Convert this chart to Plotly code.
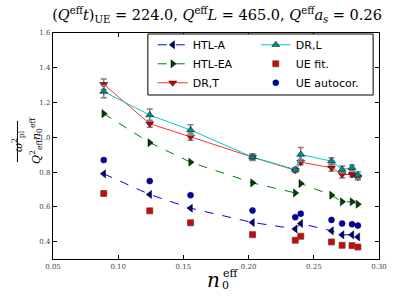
import plotly.graph_objects as go

# data
x_vals = [0.0889, 0.1242, 0.1555, 0.2030, 0.2358, 0.2400, 0.2636, 0.2717, 0.2793, 0.2838]
htl_a = [0.790, 0.671, 0.592, 0.510, 0.473, 0.504, 0.462, 0.439, 0.439, 0.427]
htl_ea = [1.136, 0.969, 0.857, 0.738, 0.680, 0.734, 0.667, 0.629, 0.629, 0.615]
dr_t = [1.305, 1.078, 1.003, 0.886, 0.810, 0.857, 0.825, 0.786, 0.786, 0.771]
dr_t_err = [0.030, 0.020, 0.020, 0.015, 0.012, 0.015, 0.020, 0.020, 0.015, 0.015]
dr_l = [1.263, 1.128, 1.042, 0.886, 0.815, 0.901, 0.863, 0.815, 0.825, 0.782]
dr_l_err = [0.035, 0.035, 0.030, 0.020, 0.012, 0.040, 0.020, 0.020, 0.015, 0.020]
ue_fit = [0.677, 0.577, 0.508, 0.440, 0.408, 0.431, 0.398, 0.379, 0.377, 0.369]
ue_fit_err = [0.006, 0.006, 0.006, 0.006, 0.006, 0.006, 0.006, 0.006, 0.006, 0.006]
ue_auto = [0.869, 0.748, 0.667, 0.579, 0.540, 0.561, 0.525, 0.504, 0.500, 0.492]

x_ticks = [0.05, 0.10, 0.15, 0.20, 0.25, 0.30]
y_ticks = [0.4, 0.6, 0.8, 1.0, 1.2, 1.4, 1.6]

serif = "DejaVu Serif"
fig = go.Figure()

err_style = dict(type="data", color="#808080", thickness=1.5, width=3)

fig.add_trace(go.Scatter(x=x_vals, y=htl_a, name="HTL-A", mode="lines+markers",
                         line=dict(color="#0000ff", dash="dash", width=1),
                         marker=dict(symbol="triangle-left", size=7, color="#000080",
                                     line=dict(color="black", width=0.5)),
                         legend="legend", legendrank=1))
fig.add_trace(go.Scatter(x=x_vals, y=htl_ea, name="HTL-EA", mode="lines+markers",
                         line=dict(color="#008000", dash="dash", width=1),
                         marker=dict(symbol="triangle-right", size=7, color="#004000",
                                     line=dict(color="black", width=0.5)),
                         legend="legend", legendrank=2))
fig.add_trace(go.Scatter(x=x_vals, y=dr_t, name="DR,T", mode="lines+markers",
                         line=dict(color="#ff3030", width=1),
                         marker=dict(symbol="triangle-down", size=7, color="#d00000",
                                     line=dict(color="black", width=0.5)),
                         error_y=dict(array=dr_t_err, **err_style),
                         legend="legend", legendrank=3))
fig.add_trace(go.Scatter(x=x_vals, y=dr_l, name="DR,L", mode="lines+markers",
                         line=dict(color="#00cccc", width=1),
                         marker=dict(symbol="triangle-up", size=7, color="#008b8b",
                                     line=dict(color="black", width=0.5)),
                         error_y=dict(array=dr_l_err, **err_style),
                         legend="legend2", legendrank=1))
fig.add_trace(go.Scatter(x=x_vals, y=ue_fit, name="UE fit.", mode="markers",
                         marker=dict(symbol="square", size=6, color="#dd0000",
                                     line=dict(color="#505050", width=0.8)),
                         error_y=dict(array=ue_fit_err, **err_style),
                         legend="legend2", legendrank=2))
fig.add_trace(go.Scatter(x=x_vals, y=ue_auto, name="UE autocor.", mode="markers",
                         marker=dict(symbol="circle", size=6, color="#0000aa",
                                     line=dict(color="#000040", width=0.5)),
                         legend="legend2", legendrank=3))

axis_common = dict(showline=True, linecolor="black", linewidth=1.2, mirror="ticks",
                   ticks="inside", ticklen=4, tickcolor="black", showgrid=False,
                   zeroline=False, tickfont=dict(family=serif, size=7, color="#444"))

legend_common = dict(orientation="v", yanchor="top", xanchor="left",
                     bgcolor="rgba(0,0,0,0)", borderwidth=0,
                     font=dict(family="DejaVu Sans", size=11, color="black"),
                     itemwidth=30, tracegroupgap=0)

fig.update_layout(
    width=399, height=299,
    margin=dict(l=53, r=16, t=33, b=40),
    paper_bgcolor="white", plot_bgcolor="white",
    title=dict(text="(<i>Q</i><sup>eff</sup><i>t</i>)<sub>UE</sub> = 224.0, <i>Q</i><sup>eff</sup><i>L</i> = 465.0, <i>Q</i><sup>eff</sup><i>a<sub>s</sub></i> = 0.26",
               font=dict(family=serif, size=14.5, color="black"),
               x=0.544, xanchor="center", y=0.95, yanchor="middle"),
    xaxis=dict(range=[0.05, 0.30], tickvals=x_ticks, tickformat=".2f", **axis_common),
    yaxis=dict(range=[0.3, 1.6], tickvals=y_ticks, tickformat=".1f", **axis_common),
    legend=dict(x=0.306, y=1.012, **legend_common),
    legend2=dict(x=0.622, y=1.012, **legend_common),
    showlegend=True,
)

# legend frame
fig.add_shape(type="rect", xref="paper", yref="paper", x0=0.291, x1=0.982,
              y0=(259 - 95) / 226, y1=(259 - 34) / 226,
              line=dict(color="black", width=1), fillcolor="white", layer="above")

# x-axis label n_0^eff
fig.add_annotation(text="<i>n</i>", x=0.491, y=-0.093, xref="paper", yref="paper",
                   showarrow=False, font=dict(family=serif, size=20, color="black"),
                   xanchor="center", yanchor="middle")
fig.add_annotation(text="eff", x=0.515, y=-0.062, xref="paper", yref="paper",
                   showarrow=False, font=dict(family=serif, size=11, color="black"),
                   xanchor="left", yanchor="middle")
fig.add_annotation(text="0", x=0.512, y=-0.118, xref="paper", yref="paper",
                   showarrow=False, font=dict(family=serif, size=11, color="black"),
                   xanchor="left", yanchor="middle")

# y-axis label as a fraction
fig.add_annotation(text="<i>ω</i><sup>2</sup><sub>pl</sub>", x=0, xshift=-45, y=0.522,
                   xref="paper", yref="paper", showarrow=False, textangle=-90,
                   font=dict(family=serif, size=11, color="black"))
fig.add_annotation(text="<i>Q</i><sup>2</sup><sub>eff</sub><i>n</i><sub>0</sub><sup>eff</sup>",
                   x=0, xshift=-27, y=0.522, xref="paper", yref="paper", showarrow=False,
                   textangle=-90, font=dict(family=serif, size=11, color="black"))
fig.add_shape(type="line", xref="paper", yref="paper", x0=-0.109, x1=-0.109,
              y0=0.429, y1=0.611, line=dict(color="black", width=1))

fig.write_html("out.html", config={"displayModeBar": False},
               post_script="document.body.style.margin='0';")
